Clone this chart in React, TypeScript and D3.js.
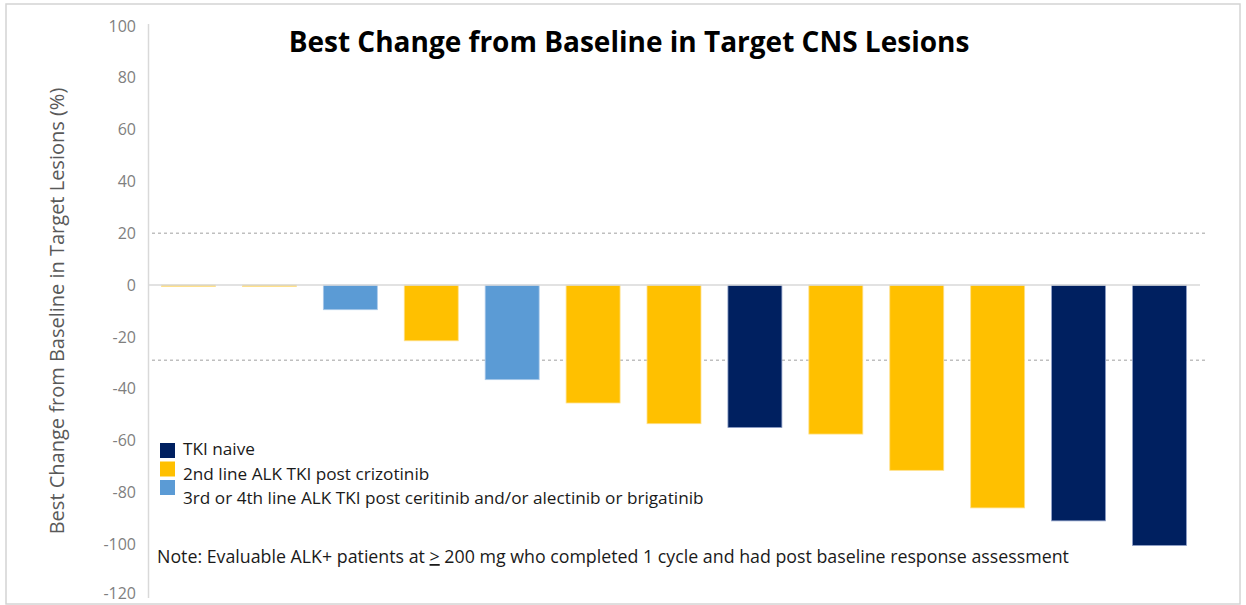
import * as d3 from "d3";

const patients = ["1", "2", "3", "4", "5", "6", "7", "8", "9", "10", "11", "12", "13"];
const bestChange = [-0.5, -0.5, -9.5, -21.5, -36.5, -45.5, -53.5, -55, -57.5, -71.5, -86, -91, -100.5];
const cohort = ["2L", "2L", "3L", "2L", "3L", "2L", "2L", "naive", "2L", "2L", "2L", "naive", "naive"];
const cohortKeys = ["naive", "2L", "3L"];
const cohortLabels = [
  "TKI naive",
  "2nd line ALK TKI post crizotinib",
  "3rd or 4th line ALK TKI post ceritinib and/or alectinib or brigatinib",
];
const yTicks = [100, 80, 60, 40, 20, 0, -20, -40, -60, -80, -100, -120];
const refLines = [20, -29];

const W = 1246;
const H = 605;
const FONT = "'Open Sans', Lato, sans-serif";

export default function App() {
  const y = d3.scaleLinear().domain([-120, 100]).range([596, 26]);
  const x = d3.scaleBand<string>().domain(patients).range([148, 1200]).paddingInner(0.333).paddingOuter(0.167);
  const color = d3.scaleOrdinal<string, string>().domain(cohortKeys).range(["#002060", "#FFC000", "#5B9BD5"]);
  const stroke = d3.scaleOrdinal<string, string>().domain(cohortKeys).range(["#8fa0c8", "#ffe08a", "#a9c9ea"]);

  return (
    <div style={{ position: "absolute", left: 0, top: 0 }}>
      <svg width={W} height={H} style={{ display: "block", background: "#fff" }}>
        <rect x={6} y={4} width={1234} height={600} fill="#fff" stroke="#d4d4d4" strokeWidth={1.5} />

        <text x={629} y={52} textAnchor="middle" fontFamily={FONT} fontWeight="bold" fontSize={28} fill="#000">
          Best Change from Baseline in Target CNS Lesions
        </text>

        {/* y axis */}
        <line x1={148.5} x2={148.5} y1={y(100) - 2} y2={y(-120) + 2} stroke="#d9d9d9" strokeWidth={1.5} />
        {yTicks.map((t) => (
          <text
            key={t}
            x={136}
            y={Math.min(y(t), 593)}
            dy="0.35em"
            textAnchor="end"
            fontFamily={FONT}
            fontSize={16}
            fill="#7f7f7f"
          >
            {t}
          </text>
        ))}
        <text
          transform={`translate(64,${y(-10)}) rotate(-90)`}
          textAnchor="middle"
          fontFamily={FONT}
          fontSize={20}
          fill="#595959"
        >
          Best Change from Baseline in Target Lesions (%)
        </text>

        {refLines.map((r) => (
          <line
            key={r}
            x1={152}
            x2={1205}
            y1={y(r)}
            y2={y(r)}
            stroke="#bfbfbf"
            strokeWidth={1.3}
            strokeDasharray="3 3"
          />
        ))}

        {patients.map((p, i) => {
          const v = bestChange[i];
          const y0 = y(0);
          const y1 = y(v);
          return (
            <rect
              key={p}
              x={x(p)}
              y={Math.min(y0, y1)}
              width={x.bandwidth()}
              height={Math.max(Math.abs(y1 - y0), 1)}
              fill={color(cohort[i])}
              stroke={stroke(cohort[i])}
              strokeWidth={0.8}
            />
          );
        })}

        <line x1={148} x2={1200} y1={y(0)} y2={y(0)} stroke="#d9d9d9" strokeWidth={1.5} />

        {/* legend */}
        {cohortKeys.map((k, i) => (
          <g key={k}>
            <rect x={160} y={443 + i * 18.5} width={15} height={15} fill={color(k)} />
            <text x={183} y={455 + i * 24.5} fontFamily={FONT} fontSize={17.2} fill="#1a1a1a">
              {cohortLabels[i]}
            </text>
          </g>
        ))}

        <text x={157} y={563} fontFamily={FONT} fontSize={17.8} fill="#1a1a1a">
          Note: Evaluable ALK+ patients at{" "}
          <tspan textDecoration="underline">&gt;</tspan> 200 mg who completed 1 cycle and had post baseline response
          assessment
        </text>
      </svg>
    </div>
  );
}
